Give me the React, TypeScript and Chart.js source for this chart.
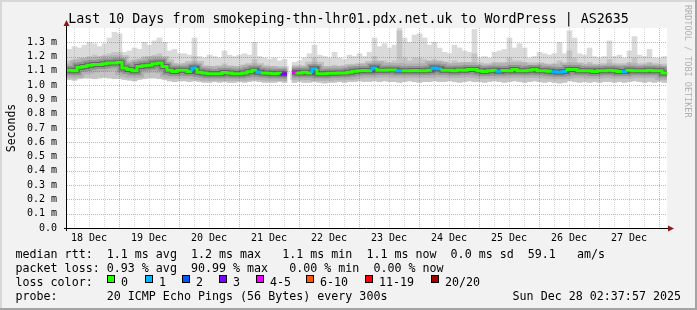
import React, { useEffect, useRef } from 'react';
import { Chart, registerables } from 'chart.js';

Chart.register(...registerables);

const W = 697;
const H = 310;
const MONO = '"DejaVu Sans Mono", monospace';

const TITLE = 'Last 10 Days from smokeping-thn-lhr01.pdx.net.uk to WordPress | AS2635';
const Y_TITLE = 'Seconds';
const WATERMARK = 'RRDTOOL / TOBI OETIKER';

// time axis: hours after Dec 18 00:00
const START_HOUR = 3.2;
const BUCKET_HOURS = 2;
const DAY_LABELS = ['18 Dec', '19 Dec', '20 Dec', '21 Dec', '22 Dec', '23 Dec', '24 Dec', '25 Dec', '26 Dec', '27 Dec'];
const Y_TICKS = [0, 0.1, 0.2, 0.3, 0.4, 0.5, 0.6, 0.7, 0.8, 0.9, 1.0, 1.1, 1.2, 1.3];
const Y_MAX = 1.4;

// median rtt per 2h bucket (ms)
const MEDIAN = [
  1.105, 1.100, 1.125, 1.130, 1.140, 1.145, 1.145, 1.150, 1.155, 1.155,
  1.160, 1.120, 1.110, 1.100, 1.130, 1.135, 1.140, 1.150, 1.155, 1.130,
  1.105, 1.095, 1.105, 1.105, 1.095, 1.120, 1.090, 1.085, 1.080, 1.080,
  1.080, 1.088, 1.085, 1.080, 1.080, 1.085, 1.093, 1.105, 1.090, 1.085,
  1.083, 1.080, 1.083, 1.078, null, 1.090, 1.085, 1.090, 1.085, 1.115,
  1.080, 1.080, 1.083, 1.083, 1.085, 1.085, 1.090, 1.098, 1.100, 1.103,
  1.100, 1.120, 1.105, 1.105, 1.106, 1.106, 1.100, 1.100, 1.100, 1.103,
  1.100, 1.100, 1.105, 1.120, 1.115, 1.105, 1.105, 1.100, 1.106, 1.105,
  1.110, 1.110, 1.100, 1.095, 1.100, 1.105, 1.098, 1.103, 1.100, 1.110,
  1.100, 1.100, 1.105, 1.110, 1.100, 1.100, 1.097, 1.093, 1.090, 1.095,
  1.110, 1.110, 1.100, 1.100, 1.100, 1.095, 1.100, 1.100, 1.105, 1.100,
  1.095, 1.095, 1.105, 1.100, 1.100, 1.100, 1.105, 1.100, 1.100, 1.085,
];

// lost pings (of 20) per bucket
const LOSS = [
  0, 0, 0, 0, 0, 0, 0, 0, 0, 0,
  0, 0, 0, 0, 0, 0, 0, 0, 0, 0,
  0, 0, 0, 0, 0, 1, 0, 0, 0, 0,
  0, 0, 0, 0, 0, 0, 0, 0, 1, 0,
  0, 0, 0, 3, 0, 4, 0, 0, 0, 1,
  0, 0, 0, 0, 0, 0, 0, 0, 0, 0,
  0, 1, 0, 0, 0, 0, 1, 0, 0, 0,
  0, 0, 0, 1, 1, 0, 0, 0, 0, 0,
  0, 0, 0, 0, 0, 0, 1, 0, 0, 0,
  0, 0, 0, 0, 0, 0, 0, 1, 1, 1,
  0, 0, 0, 0, 0, 0, 0, 0, 0, 0,
  0, 1, 0, 0, 0, 0, 0, 0, 0, 0,
];

// smoke: highest ping per bucket
const SMOKE_MAX = [
  1.25, 1.27, 1.26, 1.28, 1.30, 1.29, 1.27, 1.29, 1.33, 1.37,
  1.36, 1.23, 1.24, 1.26, 1.25, 1.30, 1.28, 1.31, 1.33, 1.30,
  1.24, 1.25, 1.22, 1.22, 1.21, 1.33, 1.20, 1.19, 1.21, 1.20,
  1.19, 1.24, 1.21, 1.20, 1.21, 1.22, 1.21, 1.30, 1.20, 1.19,
  1.18, 1.19, 1.17, 1.18, null, 1.16, 1.17, 1.19, 1.22, 1.28,
  1.21, 1.20, 1.19, 1.23, 1.19, 1.18, 1.21, 1.20, 1.22, 1.20,
  1.23, 1.33, 1.27, 1.29, 1.26, 1.28, 1.40, 1.33, 1.30, 1.35,
  1.36, 1.33, 1.28, 1.30, 1.26, 1.23, 1.22, 1.28, 1.26, 1.24,
  1.23, 1.39, 1.19, 1.20, 1.19, 1.23, 1.24, 1.25, 1.33, 1.26,
  1.29, 1.26, 1.19, 1.20, 1.23, 1.22, 1.21, 1.22, 1.30, 1.22,
  1.38, 1.33, 1.22, 1.21, 1.26, 1.20, 1.19, 1.20, 1.31, 1.20,
  1.21, 1.19, 1.24, 1.34, 1.21, 1.20, 1.25, 1.19, 1.19, 1.20,
];

// smoke: upper edge of the dense band
const SMOKE_UP = [
  1.17, 1.18, 1.19, 1.19, 1.20, 1.21, 1.20, 1.21, 1.22, 1.23,
  1.23, 1.17, 1.16, 1.17, 1.18, 1.20, 1.20, 1.21, 1.22, 1.19,
  1.15, 1.15, 1.14, 1.15, 1.14, 1.20, 1.13, 1.13, 1.13, 1.13,
  1.13, 1.15, 1.13, 1.13, 1.13, 1.14, 1.14, 1.18, 1.14, 1.13,
  1.13, 1.13, 1.12, 1.12, null, 1.13, 1.13, 1.13, 1.14, 1.19,
  1.13, 1.13, 1.13, 1.14, 1.13, 1.13, 1.14, 1.14, 1.15, 1.15,
  1.15, 1.20, 1.17, 1.17, 1.16, 1.17, 1.38, 1.19, 1.17, 1.19,
  1.19, 1.18, 1.17, 1.18, 1.17, 1.16, 1.15, 1.17, 1.16, 1.16,
  1.16, 1.22, 1.14, 1.14, 1.14, 1.16, 1.16, 1.16, 1.19, 1.17,
  1.17, 1.16, 1.14, 1.14, 1.15, 1.15, 1.14, 1.15, 1.17, 1.15,
  1.24, 1.19, 1.15, 1.14, 1.16, 1.14, 1.14, 1.14, 1.18, 1.14,
  1.14, 1.14, 1.16, 1.19, 1.14, 1.14, 1.16, 1.14, 1.14, 1.13,
];

// smoke: lowest ping per bucket
const SMOKE_LOW = [
  1.040, 1.035, 1.045, 1.050, 1.050, 1.045, 1.050, 1.055, 1.050, 1.045,
  1.045, 1.040, 1.035, 1.030, 1.040, 1.045, 1.050, 1.050, 1.045, 1.040,
  1.030, 1.025, 1.030, 1.030, 1.025, 1.030, 1.025, 1.020, 1.020, 1.025,
  1.020, 1.025, 1.020, 1.020, 1.025, 1.020, 1.025, 1.030, 1.025, 1.020,
  1.020, 1.020, 1.025, 1.020, null, 1.020, 1.025, 1.020, 1.020, 1.025,
  1.020, 1.015, 1.020, 1.020, 1.025, 1.020, 1.025, 1.025, 1.030, 1.025,
  1.025, 1.030, 1.025, 1.030, 1.025, 1.025, 1.020, 1.025, 1.030, 1.025,
  1.020, 1.025, 1.025, 1.030, 1.025, 1.025, 1.030, 1.025, 1.020, 1.025,
  1.030, 1.025, 1.025, 1.020, 1.025, 1.030, 1.025, 1.020, 1.025, 1.030,
  1.025, 1.020, 1.025, 1.030, 1.025, 1.020, 1.025, 1.020, 1.015, 1.020,
  1.030, 1.025, 1.020, 1.025, 1.020, 1.025, 1.020, 1.025, 1.025, 1.020,
  1.025, 1.020, 1.025, 1.030, 1.025, 1.020, 1.025, 1.020, 1.025, 1.020,
];

const LEGEND_ROWS = [
  'median rtt:  1.1 ms avg  1.2 ms max   1.1 ms min  1.1 ms now  0.0 ms sd  59.1   am/s',
  'packet loss: 0.93 % avg  90.99 % max   0.00 % min  0.00 % now',
  'loss color:',
  'probe:       20 ICMP Echo Pings (56 Bytes) every 300s',
];
const STAMP = 'Sun Dec 28 02:37:57 2025';

const LOSS_LABELS = ['0', '1', '2', '3', '4-5', '6-10', '11-19', '20/20'];
const LOSS_COLORS = ['#26ff00', '#00b8ff', '#0059ff', '#7e00ff', '#ee00ff', '#ff5500', '#ff0000', '#a10000'];
const LOSS_LABEL_X = [121, 159, 196, 233, 270, 320, 379, 445];

function lossColor(n: number): string {
  if (n <= 0) return LOSS_COLORS[0];
  if (n === 1) return LOSS_COLORS[1];
  if (n === 2) return LOSS_COLORS[2];
  if (n === 3) return LOSS_COLORS[3];
  if (n <= 5) return LOSS_COLORS[4];
  if (n <= 10) return LOSS_COLORS[5];
  if (n <= 19) return LOSS_COLORS[6];
  return LOSS_COLORS[7];
}

const END_HOUR = START_HOUR + MEDIAN.length * BUCKET_HOURS;

export default function App() {
  const ref = useRef<HTMLCanvasElement | null>(null);

  useEffect(() => {
    const canvas = ref.current;
    if (!canvas) return;

    const bucketStart = (i: number) => START_HOUR + i * BUCKET_HOURS;
    const smokeOuter: any[] = [];
    const smokeInner: any[] = [];
    MEDIAN.forEach((_, i) => {
      const c = bucketStart(i) + BUCKET_HOURS / 2;
      if (SMOKE_MAX[i] != null && SMOKE_LOW[i] != null) smokeOuter.push({ x: c, y: [SMOKE_LOW[i], SMOKE_MAX[i]] });
      if (SMOKE_UP[i] != null && SMOKE_LOW[i] != null) smokeInner.push({ x: c, y: [SMOKE_LOW[i], SMOKE_UP[i]] });
    });

    const medPts: any[] = [];
    const ptBucket: number[] = [];
    MEDIAN.forEach((m, i) => {
      if (m == null) {
        medPts.push({ x: bucketStart(i) + BUCKET_HOURS / 2, y: null });
        ptBucket.push(i);
      } else {
        medPts.push({ x: bucketStart(i), y: m });
        ptBucket.push(i);
        medPts.push({ x: bucketStart(i + 1), y: m });
        ptBucket.push(i);
      }
    });

    const INNER_INDEX = 5;

    const decor = {
      id: 'decor',
      beforeDraw(chart: any) {
        const { ctx, chartArea: a } = chart;
        ctx.save();
        ctx.fillStyle = '#f2f2f2';
        ctx.fillRect(0, 0, W, H);
        ctx.fillStyle = '#d8d8d8';
        ctx.fillRect(0, 0, W, 2);
        ctx.fillRect(0, 0, 2, H);
        ctx.fillStyle = '#a4a4a4';
        ctx.fillRect(0, H - 2, W, 2);
        ctx.fillRect(W - 2, 0, 2, H);
        ctx.fillStyle = '#ffffff';
        ctx.fillRect(a.left, a.top, a.right - a.left, a.bottom - a.top);
        ctx.restore();
      },
      afterDatasetDraw(chart: any, args: any) {
        if (args.index !== INNER_INDEX) return;
        const { ctx, chartArea: a, scales } = chart;
        const xs = scales.x;
        const ys = scales.y;
        ctx.save();
        ctx.beginPath();
        ctx.rect(a.left, a.top, a.right - a.left, a.bottom - a.top);
        ctx.clip();
        ctx.lineWidth = 1;
        ctx.setLineDash([1, 1]);
        for (let h = Math.ceil(START_HOUR / 6) * 6; h < END_HOUR; h += 6) {
          const px = Math.round(xs.getPixelForValue(h)) + 0.5;
          ctx.strokeStyle = h % 24 === 0 ? 'rgba(205,40,40,0.42)' : 'rgba(110,110,110,0.28)';
          ctx.beginPath();
          ctx.moveTo(px, a.top);
          ctx.lineTo(px, a.bottom);
          ctx.stroke();
        }
        ctx.strokeStyle = 'rgba(205,40,40,0.42)';
        Y_TICKS.forEach((v) => {
          if (v === 0) return;
          const py = Math.round(ys.getPixelForValue(v)) + 0.5;
          ctx.beginPath();
          ctx.moveTo(a.left, py);
          ctx.lineTo(a.right, py);
          ctx.stroke();
        });
        ctx.restore();
      },
      afterDraw(chart: any) {
        const { ctx, chartArea: a } = chart;
        ctx.save();
        ctx.setLineDash([]);
        ctx.lineWidth = 1;
        ctx.strokeStyle = '#000';
        ctx.beginPath();
        ctx.moveTo(a.left - 3, a.bottom + 0.5);
        ctx.lineTo(a.right + 2, a.bottom + 0.5);
        ctx.stroke();
        ctx.beginPath();
        ctx.moveTo(a.left - 0.5, a.bottom + 3);
        ctx.lineTo(a.left - 0.5, a.top - 3);
        ctx.stroke();
        // arrows
        ctx.fillStyle = '#8b1a1a';
        ctx.beginPath();
        ctx.moveTo(a.right + 1, a.bottom - 2.5);
        ctx.lineTo(a.right + 7, a.bottom + 0.5);
        ctx.lineTo(a.right + 1, a.bottom + 3.5);
        ctx.closePath();
        ctx.fill();
        ctx.beginPath();
        ctx.moveTo(a.left - 3.5, a.top - 2);
        ctx.lineTo(a.left - 0.5, a.top - 8);
        ctx.lineTo(a.left + 2.5, a.top - 2);
        ctx.closePath();
        ctx.fill();

        // title
        ctx.fillStyle = '#000';
        ctx.font = '13.3px ' + MONO;
        ctx.textAlign = 'center';
        ctx.textBaseline = 'alphabetic';
        ctx.fillText(TITLE, W / 2, 23);

        // y title
        ctx.save();
        ctx.translate(15, (a.top + a.bottom) / 2);
        ctx.rotate(-Math.PI / 2);
        ctx.font = '11.5px ' + MONO;
        ctx.textAlign = 'center';
        ctx.fillText(Y_TITLE, 0, 0);
        ctx.restore();

        // watermark
        ctx.save();
        ctx.translate(685, 5);
        ctx.rotate(Math.PI / 2);
        ctx.font = '8.5px ' + MONO;
        ctx.fillStyle = '#b0b0b0';
        ctx.textAlign = 'left';
        ctx.fillText(WATERMARK, 0, 0);
        ctx.restore();

        // legend
        ctx.font = '11.66px ' + MONO;
        ctx.textAlign = 'left';
        ctx.fillStyle = '#000';
        LEGEND_ROWS.forEach((row, r) => {
          ctx.fillText(row, 15.5, 258 + r * 14);
        });
        ctx.textAlign = 'right';
        ctx.fillText(STAMP, 681, 300);
        ctx.textAlign = 'left';
        LOSS_LABELS.forEach((lab, k) => {
          const lx = LOSS_LABEL_X[k];
          const bx = lx - 14;
          ctx.fillStyle = '#000';
          ctx.fillRect(bx, 275, 8, 8);
          ctx.fillStyle = LOSS_COLORS[k];
          ctx.fillRect(bx + 1, 276, 6, 6);
          ctx.fillStyle = '#000';
          ctx.fillText(lab, lx, 286);
        });
        ctx.restore();
      },
    };

    const tickFont = { family: MONO, size: 10 };
    const lineBase = { type: 'line', data: medPts, pointRadius: 0, tension: 0, spanGaps: false, borderCapStyle: 'butt' };

    const chart = new Chart(canvas, {
      type: 'bar',
      data: {
        datasets: [
          {
            ...lineBase,
            label: 'median',
            borderWidth: 3,
            borderColor: LOSS_COLORS[0],
            borderJoinStyle: 'miter',
            segment: {
              borderColor: (c: any) => lossColor(LOSS[ptBucket[c.p1DataIndex]] || 0),
            },
            order: 0,
          } as any,
          { ...lineBase, label: 'core', borderWidth: 5, borderColor: 'rgba(40,40,40,0.45)', order: 1 } as any,
          { ...lineBase, label: 'mid', borderWidth: 9, borderColor: 'rgba(80,80,80,0.3)', order: 2 } as any,
          { ...lineBase, label: 'halo', borderWidth: 14, borderColor: 'rgba(120,120,120,0.25)', order: 3 } as any,
          {
            type: 'bar',
            label: 'smoke outer',
            data: smokeOuter,
            backgroundColor: '#dadada',
            borderWidth: 0,
            barPercentage: 1,
            categoryPercentage: 1,
            grouped: false,
            order: 5,
          } as any,
          {
            type: 'bar',
            label: 'smoke inner',
            data: smokeInner,
            backgroundColor: '#c4c4c4',
            borderWidth: 0,
            barPercentage: 1,
            categoryPercentage: 1,
            grouped: false,
            order: 4,
          } as any,
        ],
      },
      options: {
        responsive: false,
        animation: false,
        devicePixelRatio: 1,
        layout: { padding: { top: 28, right: 30, left: 0, bottom: 0 } },
        plugins: { legend: { display: false }, tooltip: { enabled: false }, title: { display: false } },
        scales: {
          x: {
            type: 'linear',
            min: START_HOUR,
            max: END_HOUR,
            offset: false,
            grid: { display: false, drawTicks: false },
            border: { display: false },
            afterBuildTicks: (s: any) => {
              s.ticks = DAY_LABELS.map((_, k) => ({ value: 12 + 24 * k }));
            },
            ticks: {
              autoSkip: false,
              maxRotation: 0,
              padding: 4,
              color: '#000',
              font: tickFont,
              callback: (_v: any, i: number) => DAY_LABELS[i],
            },
            afterFit: (s: any) => {
              s.height = H - 228;
            },
          },
          y: {
            type: 'linear',
            min: 0,
            max: Y_MAX,
            grid: { display: false, drawTicks: false },
            border: { display: false },
            afterBuildTicks: (s: any) => {
              s.ticks = Y_TICKS.map((v) => ({ value: v }));
            },
            ticks: {
              autoSkip: false,
              padding: 10,
              color: '#000',
              font: tickFont,
              callback: (v: any) => (Number(v) === 0 ? '0.0' : Number(v).toFixed(1) + ' m'),
            },
            afterFit: (s: any) => {
              s.width = 67;
            },
          },
        },
      } as any,
      plugins: [decor],
    });

    return () => chart.destroy();
  }, []);

  return (
    <div style={{ position: 'fixed', left: 0, top: 0, width: W, height: H }}>
      <canvas ref={ref} width={W} height={H} style={{ display: 'block', width: W, height: H }} />
    </div>
  );
}
